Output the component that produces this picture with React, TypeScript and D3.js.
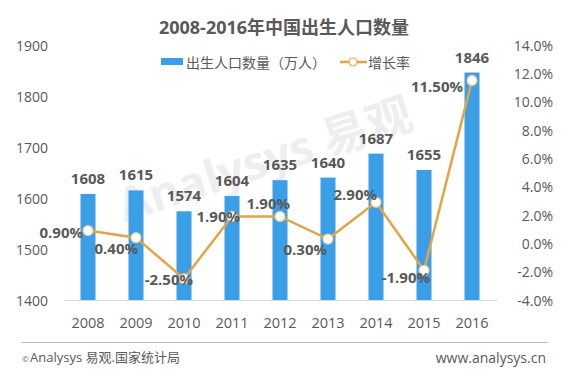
import React from "react";
import * as d3 from "d3";

const years = ["2008", "2009", "2010", "2011", "2012", "2013", "2014", "2015", "2016"];
const births = [1608, 1615, 1574, 1604, 1635, 1640, 1687, 1655, 1846];
const growth = [0.9, 0.4, -2.5, 1.9, 1.9, 0.3, 2.9, -1.9, 11.5];
const growthLabels = ["0.90%", "0.40%", "-2.50%", "1.90%", "1.90%", "0.30%", "2.90%", "-1.90%", "11.50%"];
const leftTicks = [1400, 1500, 1600, 1700, 1800, 1900];
const rightTicks = [-4, -2, 0, 2, 4, 6, 8, 10, 12, 14];
const title = "2008-2016年中国出生人口数量";
const legendBar = "出生人口数量（万人）";
const legendLine = "增长率";
const source = "Analysys 易观.国家统计局";
const site = "www.analysys.cn";

// label offsets (end anchor) relative to each growth point
const labelOffsets: [number, number][] = [
  [-5, 1], [2, 10], [9, 0], [8, 0], [10, -13], [-1, 10], [1, -8], [6, 7], [-9, 6],
];

const W = 565;
const H = 377;
const FONT = "'Open Sans', 'Noto Sans CJK SC', sans-serif";
const TXT = "#595959";
const BLUE = "#3a9fe6";
const ORANGE = "#e3a447";

export default function App() {
  const x = d3.scaleBand<string>().domain(years).range([64, 496]).padding(0);
  const yL = d3.scaleLinear().domain([1400, 1900]).range([300, 45]);
  const yR = d3.scaleLinear().domain([-4, 14]).range([300, 45]);
  const bw = 15;
  const cx = (y: string) => (x(y) as number) + x.bandwidth() / 2;
  const line = d3
    .line<number>()
    .x((_, i) => cx(years[i]))
    .y((d) => yR(d));

  return (
    <svg
      width={W}
      height={H}
      style={{ position: "absolute", left: 0, top: 0, background: "#fff" }}
      fontFamily={FONT}
    >
      <rect x={0} y={0} width={W} height={H} fill="#fff" />
      {/* watermark */}
      <g transform="translate(270,175) rotate(-18)" opacity={0.13} fill="#808080">
        <text x={0} y={0} textAnchor="middle" fontSize={46} fontWeight={700} fontFamily={FONT}>
          Analysys 易观
        </text>
      </g>

      {/* title */}
      <text x={284} y={27} textAnchor="middle" dominantBaseline="central" fontSize={18} fontWeight={700} fill={TXT}>
        {title}
      </text>

      {/* legend */}
      <rect x={161} y={58} width={22} height={7} fill={BLUE} />
      <text x={186} y={62} dominantBaseline="central" fontSize={14} fill={TXT}>
        {legendBar}
      </text>
      <line x1={340} x2={367} y1={62} y2={62} stroke={ORANGE} strokeWidth={2.5} />
      <circle cx={353} cy={62} r={4} fill="#fff" stroke={ORANGE} strokeWidth={1.2} />
      <text x={368} y={62} dominantBaseline="central" fontSize={14} fill={TXT}>
        {legendLine}
      </text>

      {/* left axis */}
      {leftTicks.map((t) => (
        <text key={t} x={48} y={yL(t)} textAnchor="end" dominantBaseline="central" fontSize={14} fill={TXT}>
          {t}
        </text>
      ))}
      {/* right axis */}
      {rightTicks.map((t) => (
        <text key={t} x={553} y={yR(t)} textAnchor="end" dominantBaseline="central" fontSize={14} fill={TXT}>
          {t.toFixed(1) + "%"}
        </text>
      ))}

      {/* bars */}
      {births.map((v, i) => (
        <rect
          key={years[i]}
          x={cx(years[i]) - bw / 2}
          y={yL(v)}
          width={bw}
          height={yL(1400) - yL(v)}
          fill={BLUE}
        />
      ))}
      {/* baseline */}
      <line x1={64} x2={497} y1={300.5} y2={300.5} stroke="#d9d9d9" strokeWidth={1} />

      {/* bar labels */}
      {births.map((v, i) => (
        <text
          key={"b" + years[i]}
          x={cx(years[i])}
          y={yL(v) - 16}
          textAnchor="middle"
          dominantBaseline="central"
          fontSize={15}
          fontWeight={700}
          fill={TXT}
        >
          {v}
        </text>
      ))}

      {/* line */}
      <path d={line(growth) as string} fill="none" stroke={ORANGE} strokeWidth={2.5} />
      {growth.map((g, i) => (
        <circle key={"c" + years[i]} cx={cx(years[i])} cy={yR(g)} r={5} fill="#fff" stroke="#f0c98a" strokeWidth={1.2} />
      ))}
      {growth.map((g, i) => (
        <text
          key={"g" + years[i]}
          x={cx(years[i]) + labelOffsets[i][0]}
          y={yR(g) + labelOffsets[i][1]}
          textAnchor="end"
          dominantBaseline="central"
          fontSize={15}
          fontWeight={700}
          fill={TXT}
        >
          {growthLabels[i]}
        </text>
      ))}

      {/* x axis labels */}
      {years.map((y) => (
        <text key={"x" + y} x={cx(y)} y={322} textAnchor="middle" dominantBaseline="central" fontSize={14.5} fill={TXT}>
          {y}
        </text>
      ))}

      {/* footer */}
      <line x1={21} x2={548} y1={342.5} y2={342.5} stroke="#bfbfbf" strokeWidth={1} />
      <text x={22} y={358} dominantBaseline="central" fontSize={8} fill={TXT}>
        ©
      </text>
      <text x={30} y={357} dominantBaseline="central" fontSize={13} fill={TXT}>
        {source}
      </text>
      <text x={546} y={357} textAnchor="end" dominantBaseline="central" fontSize={14} fill={TXT}>
        {site}
      </text>
    </svg>
  );
}
